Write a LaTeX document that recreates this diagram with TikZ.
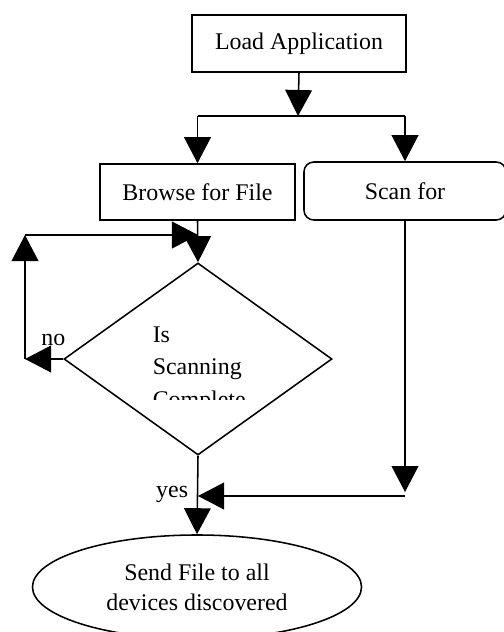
\documentclass[tikz,border=0pt]{standalone}
\usepackage{fontspec}
\setmainfont{Liberation Serif}
\usetikzlibrary{arrows.meta,shapes.geometric}

\begin{document}
\begin{tikzpicture}[x=.025cm,y=-.025cm,line width=1.1pt,
  font=\fontsize{17}{22}\selectfont,
  flow/.style={-{Triangle[length=18.5pt,width=19pt]}}]

\useasboundingbox (0,0) rectangle (504,632);

\node (load) at (299,43.5) [rectangle, draw, minimum width=5.35cm, minimum height=1.425cm] {Load Application};
\node (browse) at (197.5,192) [rectangle, draw, minimum width=4.875cm, minimum height=1.4cm] {Browse for File};
\node (scan) at (405,191) [rectangle, draw, rounded corners=7pt, minimum width=5.05cm, minimum height=1.45cm] {Scan for};
\node (dec) at (198,359) [diamond, draw, inner sep=0, minimum width=6.7cm, minimum height=4.8cm] {};
\node (send) at (197,587) [ellipse, draw, align=center, minimum width=8.225cm, minimum height=2.6cm, font=\fontsize{17}{21.3}\selectfont] {Send File to all\\devices discovered};

%-----------------------------------------------------
\begin{scope}
\clip (100,300) rectangle (320,399);
\node (ask) at (152,407) [anchor=base west, align=left, inner sep=0, font=\fontsize{17}{22.8}\selectfont] {Is\\Scanning\\Complete};
\end{scope}

%-----------------------------------------------------
\coordinate (split) at (298,116);
\coordinate (nl) at (25,359);
\coordinate (nu) at (25,235);
\coordinate (join) at (405,496);

\draw [flow] (load.south) -- (split);
\draw (split -| browse) -- (split -| scan);
\draw [flow] (split -| browse) -- (browse);
\draw [flow] (split -| scan) -- (scan);

\draw [flow] (browse.south) -- (dec.north);
\draw [flow] (dec.west) -- node[pos=.26, above, yshift=5.7pt] {no} (nl);
\draw [flow] (nl) -- (nu);
\draw [flow] (nu) -- (nu -| dec.north);

\draw [flow] (dec.south) -- node[pos=.49, left, xshift=-2.8pt] {yes} (send.north);

\draw [flow, shorten >=2.8pt] (scan.south) -- (join);
\draw [flow] (join) -- (join -| dec.south);

\end{tikzpicture}
\end{document}
